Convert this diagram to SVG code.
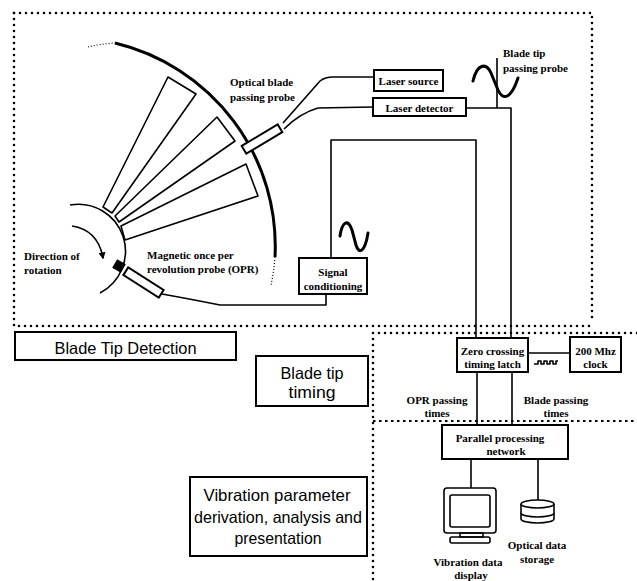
<svg xmlns="http://www.w3.org/2000/svg" width="637" height="581" viewBox="0 0 637 581">
  <defs>
    <style>
      .ln { fill: none; stroke: #000; stroke-width: 1.6; stroke-linejoin: round; }
      .box { fill: #fff; stroke: #000; stroke-width: 2; }
      .dot { fill: none; stroke: #000; stroke-width: 2.6; stroke-linecap: round; stroke-dasharray: 0 6; }
      .wav { fill: none; stroke: #000; stroke-width: 1.8; stroke-dasharray: 2.5 3.5; }
      .sine { fill: none; stroke: #000; stroke-width: 3; stroke-linecap: round; }
      .lbl { font-family: "Liberation Serif", "Times New Roman", serif; font-weight: bold; font-size: 11px; fill: #000; }
      .big { font-family: "Liberation Sans", Arial, sans-serif; font-size: 16.5px; fill: #000; }
      .mid { text-anchor: middle; }
    </style>
    <marker id="arrow" viewBox="0 0 10 10" refX="8" refY="5" markerWidth="7" markerHeight="7" orient="auto" markerUnits="userSpaceOnUse">
      <path d="M0,0 L10,5 L0,10 z" fill="#000"/>
    </marker>
  </defs>

  <!-- section boundaries -->
  <g id="sections">
    <path class="dot" d="M14,13 L592,13 L592,320"/>
    <path class="dot" d="M14,13 L14,326 L592,326"/>
    <path class="dot" d="M637,333 L373,333 L373,581"/>
    <path class="wav" d="M373,421 L637,421"/>
  </g>

  <!-- rotor with blades and casing -->
  <g id="rotor">
    <path d="M115,43 A209,209 0 0 1 275,257" fill="none" stroke="#000" stroke-width="3"/>
    <path d="M275,257 A209,209 0 0 1 271,285" fill="none" stroke="#000" stroke-width="1.2" stroke-dasharray="1 2"/>
    <path d="M88,47 Q100,44 115,43" fill="none" stroke="#000" stroke-width="1.2" stroke-dasharray="1 2"/>
    <path class="ln" d="M70,205 A47,47 0 0 1 100,293"/>
    <polygon class="ln" points="103,207 168,77 196,94 112,213"/>
    <polygon class="ln" points="115,216 217,117 235,141 119,222"/>
    <polygon class="ln" points="121,226 246,164 258,196 125,240"/>
    <path class="ln" d="M72,226 Q98,230 103,258" marker-end="url(#arrow)"/>
    <text class="lbl" x="24" y="260">Direction of</text>
    <text class="lbl" x="24" y="274">rotation</text>
  </g>

  <!-- optical blade passing probe -->
  <g id="optical-probe">
    <rect class="box" x="-21" y="-4.5" width="42" height="9" transform="translate(262,139) rotate(-31)" stroke-width="1.6"/>
    <text class="lbl" x="230" y="86">Optical blade</text>
    <text class="lbl" x="230" y="101">passing probe</text>
  </g>

  <!-- magnetic once per revolution probe -->
  <g id="opr-probe">
    <rect x="-5" y="-5" width="10" height="10" fill="#000" transform="translate(119,266) rotate(30)"/>
    <rect class="box" x="-21" y="-4.5" width="42" height="9" transform="translate(143.5,282.5) rotate(32.6)" stroke-width="1.6"/>
    <text class="lbl" x="147" y="259">Magnetic once per</text>
    <text class="lbl" x="147" y="273">revolution probe (OPR)</text>
  </g>

  <g id="laser-source">
    <rect class="box" x="374" y="70" width="69" height="21"/>
    <text class="lbl mid" x="408.5" y="85">Laser source</text>
  </g>

  <g id="laser-detector">
    <rect class="box" x="373" y="98" width="93" height="18"/>
    <text class="lbl mid" x="419.5" y="112">Laser detector</text>
  </g>

  <g id="blade-tip-probe">
    <path class="sine" d="M473,81 C477,64 486,62 491,73 L498,90 C503,101 511,99 518,78"/>
    <text class="lbl" x="503" y="57">Blade tip</text>
    <text class="lbl" x="503" y="72">passing probe</text>
  </g>

  <g id="signal-conditioning">
    <path class="sine" d="M340,236 C342,222 348,218 352,230 L356,245 C359,255 365,252 368,233"/>
    <rect class="box" x="299" y="258" width="68" height="36"/>
    <text class="lbl mid" x="333" y="276">Signal</text>
    <text class="lbl mid" x="333" y="290">conditioning</text>
  </g>

  <g id="zero-crossing">
    <rect class="box" x="457" y="338" width="71" height="34"/>
    <text class="lbl mid" x="492.5" y="355">Zero crossing</text>
    <text class="lbl mid" x="492.5" y="368">timing latch</text>
  </g>

  <g id="clock">
    <rect class="box" x="570" y="337" width="51" height="35"/>
    <text class="lbl mid" x="595.5" y="355">200 Mhz</text>
    <text class="lbl mid" x="595.5" y="368">clock</text>
    <path class="ln" stroke-width="1.2" d="M534,364 L538,364 L538,361 L541,361 L541,364 L544,364 L544,361 L547,361 L547,364 L550,364 L550,361 L553,361 L553,364 L556,364 L556,361 L558,361"/>
  </g>

  <g id="parallel-network">
    <rect class="box" x="442" y="425" width="126" height="34"/>
    <text class="lbl mid" x="500" y="442">Parallel processing</text>
    <text class="lbl mid" x="506" y="455">network</text>
  </g>

  <g id="display">
    <rect class="ln" x="444" y="488" width="52" height="45" rx="3"/>
    <rect class="ln" x="450" y="495" width="40" height="32" rx="2"/>
    <rect class="ln" x="460" y="533" width="23" height="4"/>
    <rect class="ln" x="450" y="537" width="40" height="6" rx="2"/>
    <text class="lbl mid" x="468" y="566">Vibration data</text>
    <text class="lbl mid" x="471" y="579">display</text>
  </g>

  <g id="storage">
    <ellipse class="ln" cx="537.5" cy="504" rx="16.5" ry="4"/>
    <path class="ln" d="M521,504 L521,519 M554,504 L554,519"/>
    <path class="ln" d="M521,513 A16.5,4 0 0 0 554,513"/>
    <path class="ln" d="M521,519 A16.5,4 0 0 0 554,519"/>
    <text class="lbl mid" x="537" y="549">Optical data</text>
    <text class="lbl mid" x="537" y="563">storage</text>
  </g>

  <!-- stage titles -->
  <g id="title-detection">
    <rect class="box" x="15" y="332" width="221" height="28"/>
    <text class="big mid" x="125.5" y="354" textLength="142" lengthAdjust="spacingAndGlyphs">Blade Tip Detection</text>
  </g>
  <g id="title-timing">
    <rect class="box" x="256" y="356" width="112" height="50"/>
    <text class="big mid" x="312" y="379" textLength="63" lengthAdjust="spacingAndGlyphs">Blade tip</text>
    <text class="big mid" x="312" y="398" textLength="47" lengthAdjust="spacingAndGlyphs">timing</text>
  </g>
  <g id="title-vibration">
    <rect class="box" x="190" y="477" width="177" height="79"/>
    <text class="big mid" x="277" y="501" textLength="147" lengthAdjust="spacingAndGlyphs">Vibration parameter</text>
    <text class="big mid" x="278" y="523" textLength="168" lengthAdjust="spacingAndGlyphs">derivation, analysis and</text>
    <text class="big mid" x="278" y="544" textLength="87" lengthAdjust="spacingAndGlyphs">presentation</text>
  </g>

  <!-- connectors -->
  <g id="connectors">
    <path class="ln" d="M283,123 L320,81 Q325,77 333,77 L374,77"/>
    <path class="ln" d="M284,129 Q300,113 318,108 L373,107"/>
    <path class="ln" d="M466,108 L511,108 L511,338"/>
    <path class="ln" d="M497,58 L497,108"/>
    <path class="ln" d="M331,258 L331,140 L476,140 L476,338"/>
    <path class="ln" d="M162,294 Q195,300 220,305 L326,305 L326,294"/>
    <path class="ln" d="M528,353 L570,353"/>
    <path class="ln" d="M477,372 L477,425"/>
    <path class="ln" d="M512,372 L512,425"/>
    <path class="ln" d="M471,459 L471,488"/>
    <path class="ln" d="M538,459 L538,500"/>
  </g>
  <g id="labels">
    <text class="lbl mid" x="437" y="404">OPR passing</text>
    <text class="lbl mid" x="437" y="417">times</text>
    <text class="lbl mid" x="556" y="404">Blade passing</text>
    <text class="lbl mid" x="556" y="417">times</text>
  </g>
</svg>
